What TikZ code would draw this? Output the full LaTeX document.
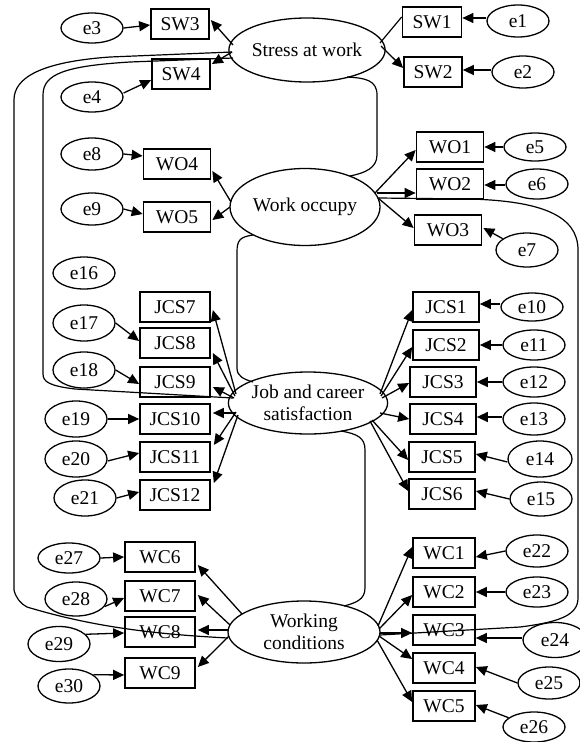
\documentclass[tikz,border=0pt]{standalone}
\usepackage{fontspec}
\setmainfont{Liberation Serif}
\usetikzlibrary{shapes.geometric,arrows.meta,calc}
\begin{document}
\begin{tikzpicture}[x=1pt,y=-1pt,
  every node/.style={font=\fontsize{19.5}{22}\selectfont, inner sep=0pt},
  lat/.style={ellipse, draw, line width=1.3pt, align=center},
  obs/.style={rectangle, draw, line width=1.7pt, minimum height=30pt},
  err/.style={ellipse, draw, line width=1.3pt, minimum width=62pt, minimum height=32pt},
  pa/.style={line width=1.3pt, -{Triangle[length=11pt,width=10pt]}},
  cov/.style={line width=1.2pt},
]
\useasboundingbox (0,0) rectangle (580,742);
% latent
\node[lat,minimum width=150pt,minimum height=64pt] (stress) at (307,50) {Stress at work};
\node[lat,minimum width=150pt,minimum height=77pt] (wo) at (305,207) {Work occupy};
\node[lat,minimum width=150pt,minimum height=62pt] (jcs) at (308,403) {Job and career\\satisfaction};
\node[lat,minimum width=152pt,minimum height=62pt] (wc) at (304,632) {Working\\conditions};
% observed
\node[obs,minimum width=58pt] (SW3) at (180,24) {SW3};
\node[obs,minimum width=58pt] (SW4) at (181,74) {SW4};
\node[obs,minimum width=59pt] (SW1) at (432,22) {SW1};
\node[obs,minimum width=58pt] (SW2) at (433,72) {SW2};
\node[obs,minimum width=67pt] (WO4) at (177,164) {WO4};
\node[obs,minimum width=67pt] (WO5) at (177,217) {WO5};
\node[obs,minimum width=67pt] (WO1) at (450,147) {WO1};
\node[obs,minimum width=67pt] (WO2) at (450,184) {WO2};
\node[obs,minimum width=67pt] (WO3) at (448,230) {WO3};
\node[obs,minimum width=70pt] (JCS7) at (175,307) {JCS7};
\node[obs,minimum width=70pt] (JCS8) at (175,343) {JCS8};
\node[obs,minimum width=70pt] (JCS9) at (175,382) {JCS9};
\node[obs,minimum width=70pt] (JCS10) at (175,419) {JCS10};
\node[obs,minimum width=70pt] (JCS11) at (175,457) {JCS11};
\node[obs,minimum width=70pt] (JCS12) at (175,495) {JCS12};
\node[obs,minimum width=66pt] (JCS1) at (446,307) {JCS1};
\node[obs,minimum width=66pt] (JCS2) at (446,345) {JCS2};
\node[obs,minimum width=66pt] (JCS3) at (443,382) {JCS3};
\node[obs,minimum width=66pt] (JCS4) at (443,419) {JCS4};
\node[obs,minimum width=66pt] (JCS5) at (442,457) {JCS5};
\node[obs,minimum width=66pt] (JCS6) at (442,494) {JCS6};
\node[obs,minimum width=70pt] (WC6) at (160,557) {WC6};
\node[obs,minimum width=70pt] (WC7) at (160,596) {WC7};
\node[obs,minimum width=70pt] (WC8) at (160,632) {WC8};
\node[obs,minimum width=70pt] (WC9) at (160,673) {WC9};
\node[obs,minimum width=62pt] (WC1) at (444,553) {WC1};
\node[obs,minimum width=62pt] (WC2) at (444,592) {WC2};
\node[obs,minimum width=62pt] (WC3) at (444,630) {WC3};
\node[obs,minimum width=62pt] (WC4) at (444,668) {WC4};
\node[obs,minimum width=62pt] (WC5) at (444,706) {WC5};
% errors
\node[err] (e1) at (518,21) {e1};
\node[err] (e2) at (523,72) {e2};
\node[err,minimum height=30pt] (e3) at (92,28) {e3};
\node[err,minimum height=30pt] (e4) at (92,97) {e4};
\node[err,minimum height=28pt] (e5) at (535,147) {e5};
\node[err,minimum height=30pt] (e6) at (537,184) {e6};
\node[err,minimum height=34pt] (e7) at (527,250) {e7};
\node[err] (e8) at (92,154) {e8};
\node[err] (e9) at (92,209) {e9};
\node[err,minimum height=28pt] (e10) at (532,307) {e10};
\node[err,minimum height=30pt] (e11) at (534,345) {e11};
\node[err,minimum height=30pt] (e12) at (534,382) {e12};
\node[err] (e13) at (534,419) {e13};
\node[err,minimum width=64pt,minimum height=36pt] (e14) at (540,459) {e14};
\node[err,minimum height=34pt] (e15) at (541,499) {e15};
\node[err] (e16) at (84,273) {e16};
\node[err,minimum height=36pt] (e17) at (84,323) {e17};
\node[err,minimum height=36pt] (e18) at (84,370) {e18};
\node[err,minimum height=36pt] (e19) at (76,419) {e19};
\node[err,minimum height=36pt] (e20) at (76,459) {e20};
\node[err,minimum height=36pt] (e21) at (85,498) {e21};
\node[err] (e22) at (537,551) {e22};
\node[err,minimum height=30pt] (e23) at (537,592) {e23};
\node[err,minimum width=64pt,minimum height=35pt] (e24) at (555,640) {e24};
\node[err] (e25) at (549,683) {e25};
\node[err,minimum height=30pt] (e26) at (534,727) {e26};
\node[err,minimum height=30pt] (e27) at (69,558) {e27};
\node[err,minimum height=34pt] (e28) at (76,599) {e28};
\node[err,minimum height=35pt] (e29) at (59,644) {e29};
\node[err,minimum height=34pt] (e30) at (69,686) {e30};
% loadings: stress
\draw[pa] ($(stress)+(-74,-5)$) -- ($(SW3.east)+(1,-4)$);
\draw[pa] ($(stress)+(-75,2)$) -- ($(SW4.east)+(1,-10)$);
\draw[cov] ($(stress)+(73,-7)$) -- ($(SW1.west)+(0,-5)$);
\draw[pa] ($(stress)+(74,-4)$) -- ($(SW2.west)+(0,-4)$);
% work occupy
\draw[pa] ($(wo)+(-74,-5)$) -- ($(WO4.east)+(1,7)$);
\draw[pa] ($(wo)+(-75,0)$) -- ($(WO5.east)+(1,3)$);
\draw[pa] ($(wo)+(70,-14)$) -- ($(WO1.west)+(0,3)$);
\draw[pa] ($(wo)+(72,-14)$) -- ($(WO2.west)+(0,9)$);
\draw[pa] ($(wo)+(73,-9)$) -- ($(WO3.west)+(0,-2)$);
% job and career satisfaction
\draw[pa] ($(jcs)+(-72,-9)$) -- ($(JCS7.east)+(2,3)$);
\draw[pa] ($(jcs)+(-73,-7)$) -- ($(JCS8.east)+(2,10)$);
\draw[pa] ($(jcs)+(-74,-5)$) -- ($(JCS9.east)+(2,5)$);
\draw[pa] ($(jcs)+(-73,10)$) -- ($(JCS10.east)+(2,-6)$);
\draw[pa] ($(jcs)+(-72,9)$) -- ($(JCS11.east)+(3,-12)$);
\draw[pa] ($(jcs)+(-70,12)$) -- ($(JCS12.east)+(3,-12)$);
\draw[pa] ($(jcs)+(72,-9)$) -- ($(JCS1.west)+(0,3)$);
\draw[pa] ($(jcs)+(73,-7)$) -- ($(JCS2.west)+(0,2)$);
\draw[pa] ($(jcs)+(74,-5)$) -- ($(JCS3.west)+(0,1)$);
\draw[pa] ($(jcs)+(72,10)$) -- (JCS4.west);
\draw[pa] ($(jcs)+(64,17)$) -- ($(JCS5.west)+(0,3)$);
\draw[pa] ($(jcs)+(62,18)$) -- ($(JCS6.west)+(0,-3)$);
% working conditions
\draw[pa] ($(wc)+(-62,-18)$) -- ($(WC6.east)+(2,8)$);
\draw[pa] ($(wc)+(-74,-7)$) -- ($(WC7.east)+(2,-1)$);
\draw[pa] ($(wc)+(-76,-2)$) -- ($(WC8.east)+(2,-2)$);
\draw[pa] ($(wc)+(-75,4)$) -- ($(WC9.east)+(2,-6)$);
\draw[pa] ($(wc)+(74,-6)$) -- ($(WC1.west)+(0,-6)$);
\draw[pa] ($(wc)+(75,-3)$) -- ($(WC2.west)+(0,3)$);
\draw[pa] ($(wc)+(76,1)$) -- ($(WC3.west)+(0,3)$);
\draw[pa] ($(wc)+(75,4)$) -- ($(WC4.west)+(0,-9)$);
\draw[pa] ($(wc)+(73,8)$) -- ($(WC5.west)+(0,-4)$);
% errors
\draw[pa] ($(e1.west)+(0,-3)$) -- ($(SW1.east)+(0,-4)$);
\draw[pa] ($(e2.west)+(0,-2)$) -- ($(SW2.east)+(0,-2)$);
\draw[pa] (e3.east) -- ($(SW3.west)+(0,1)$);
\draw[pa] ($(e4.east)+(0,-4)$) -- ($(SW4.west)+(0,6)$);
\draw[pa] (e5.west) -- (WO1.east);
\draw[pa] ($(e6.west)+(0,1)$) -- ($(WO2.east)+(0,1)$);
\draw[pa] (e7.155) -- ($(WO3.east)+(1,-2)$);
\draw[pa] (e8.east) -- ($(WO4.west)+(0,-8)$);
\draw[pa] (e9.east) -- ($(WO5.west)+(0,-3)$);
\draw[pa] ($(e10.west)+(0,-3)$) -- ($(JCS1.east)+(0,-3)$);
\draw[pa] (e11.west) -- (JCS2.east);
\draw[pa] (e12.west) -- (JCS3.east);
\draw[pa] ($(e13.west)+(0,-2)$) -- ($(JCS4.east)+(0,-2)$);
\draw[pa] ($(e14.west)+(0,3)$) -- ($(JCS5.east)+(0,-3)$);
\draw[pa] (e15.west) -- ($(JCS6.east)+(0,-3)$);
\draw[pa] (e17.east) -- ($(JCS8.west)+(0,-2)$);
\draw[pa] (e18.east) -- ($(JCS9.west)+(0,2)$);
\draw[pa] (e19.east) -- (JCS10.west);
\draw[pa] ($(e20.east)+(0,2)$) -- ($(JCS11.west)+(0,-4)$);
\draw[pa] (e21.east) -- ($(JCS12.west)+(0,-3)$);
\draw[pa] (e22.west) -- ($(WC1.east)+(0,4)$);
\draw[pa] (e23.west) -- (WC2.east);
\draw[pa] ($(e24.west)+(0,-2)$) -- ($(WC3.east)+(0,8)$);
\draw[pa] (e25.west) -- ($(WC4.east)+(0,-1)$);
\draw[pa] (e26.160) -- ($(WC5.east)+(0,-1)$);
\draw[pa] (e27.east) -- (WC6.west);
\draw[pa] (e28.-15) -- ($(WC7.west)+(0,2)$);
\draw[pa] (e29.20) -- ($(WC8.west)+(0,1)$);
\draw[pa] (e30.25) -- ($(WC9.west)+(0,2)$);
% covariances
\draw[cov] ($(stress)+(-75,2)$) -- (110,57) .. controls (40,62) and (14,78) .. (14,100) -- (14,590)
  .. controls (16,598) and (20,603) .. (27,607) .. controls (90,626) and (150,634) .. ($(wc)+(-76,6)$);
\draw[cov] ($(stress)+(-74,8)$) -- (130,62) .. controls (65,66) and (43,74) .. (43,95) -- (43,374)
  .. controls (43,382) and (50,386) .. (75,389) -- ($(jcs)+(-75,-5)$);
\draw[cov] ($(stress)+(40,27)$) .. controls (365,78) and (377,80) .. (377,95) -- (377,155)
  .. controls (377,168) and (365,173) .. ($(wo)+(45,-31)$);
\draw[cov] ($(wo)+(-52,28)$) .. controls (240,237) and (237,240) .. (237,252) -- (237,368)
  .. controls (237,376) and (243,379) .. ($(jcs)+(-55,-21)$);
\draw[cov] ($(jcs)+(33,28)$) .. controls (358,434) and (365,438) .. (365,450) -- (365,588)
  .. controls (365,600) and (355,603) .. ($(wc)+(40,-26)$);
\draw[cov] ($(wo)+(73,-9)$) -- (470,199) .. controls (540,201) and (578,215) .. (578,250) -- (578,598)
  .. controls (578,615) and (560,622) .. (520,627) -- ($(wc)+(76,3)$);
\end{tikzpicture}
\end{document}
